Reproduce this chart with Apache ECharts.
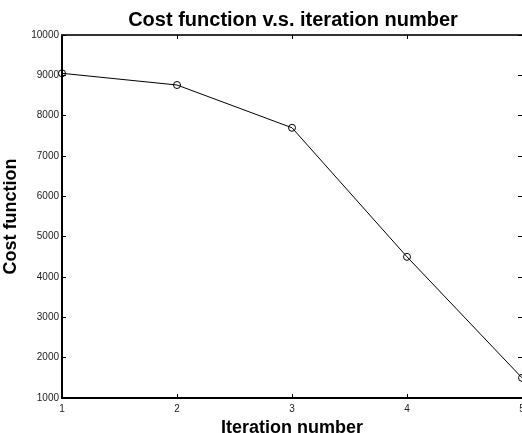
<!DOCTYPE html>
<html>
<head>
<meta charset="utf-8">
<script src="https://cdn.jsdelivr.net/npm/echarts@6/dist/echarts.min.js"></script>
<style>html,body{margin:0;padding:0;background:#fff}#c{width:522px;height:433px}</style>
</head>
<body>
<div id="c"></div>
<script>
var iterations = [1, 2, 3, 4, 5];
var costValues = [9050, 8760, 7700, 4500, 1500];
var titleText = 'Cost function v.s. iteration number';
var xName = 'Iteration number';
var yName = 'Cost function';

var font = '"Liberation Sans", Arial, Helvetica, sans-serif';
var chart = echarts.init(document.getElementById('c'), null, {renderer: 'canvas'});
var pts = iterations.map(function (x, i) { return [x, costValues[i]]; });
function plain(v) { return String(v); }
chart.setOption({
  animation: false,
  backgroundColor: '#fff',
  title: {
    text: titleText, left: 288, top: 5, textAlign: 'center',
    textStyle: {fontFamily: font, fontWeight: 'bold', fontSize: 20, color: '#000'}
  },
  grid: {left: 62, top: 35, right: 0, bottom: 35, containLabel: false, outerBoundsMode: 'none'},
  xAxis: [{
    type: 'value', min: 1, max: 5, interval: 1, position: 'bottom',
    name: xName, nameLocation: 'middle', nameGap: 16,
    nameTextStyle: {fontFamily: font, fontWeight: 'bold', fontSize: 18, color: '#000'},
    axisLine: {lineStyle: {color: '#000', width: 2}},
    axisTick: {inside: true, length: 4, lineStyle: {color: '#000'}},
    axisLabel: {fontFamily: font, fontSize: 10, color: '#222', margin: 6, formatter: plain},
    splitLine: {show: false}
  }, {
    type: 'value', min: 1, max: 5, interval: 1, position: 'top',
    axisLine: {lineStyle: {color: '#333', width: 2}},
    axisTick: {inside: true, length: 4, lineStyle: {color: '#000'}},
    axisLabel: {show: false}, splitLine: {show: false}
  }],
  yAxis: [{
    type: 'value', min: 1000, max: 10000, interval: 1000, position: 'left',
    name: yName, nameLocation: 'middle', nameGap: 34, nameRotate: 90,
    nameTextStyle: {fontFamily: font, fontWeight: 'bold', fontSize: 18, color: '#000'},
    axisLine: {lineStyle: {color: '#000', width: 2}},
    axisTick: {inside: true, length: 4, lineStyle: {color: '#000'}},
    axisLabel: {fontFamily: font, fontSize: 10, color: '#222', margin: 3, formatter: plain},
    splitLine: {show: false}
  }, {
    type: 'value', min: 1000, max: 10000, interval: 1000, position: 'right',
    axisLine: {show: false},
    axisTick: {inside: true, length: 4, lineStyle: {color: '#000'}},
    axisLabel: {show: false}, splitLine: {show: false}
  }],
  series: [{
    type: 'line', data: pts, xAxisIndex: 0, yAxisIndex: 0,
    symbol: 'circle', symbolSize: 7,
    lineStyle: {color: '#000', width: 1},
    itemStyle: {color: 'rgba(0,0,0,0)', borderColor: '#000', borderWidth: 1}
  }]
});
</script>
</body>
</html>
